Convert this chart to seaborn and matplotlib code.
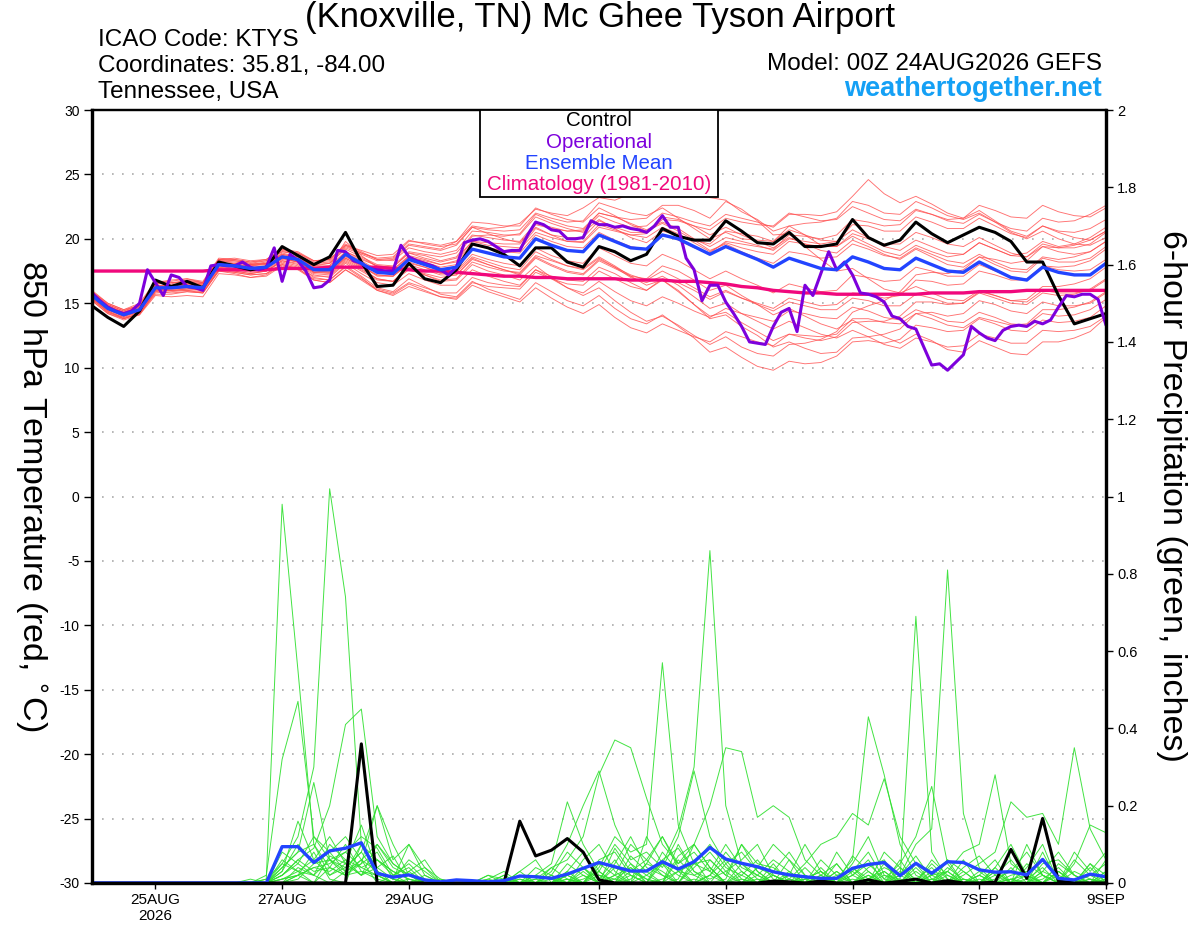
import numpy as np
import pandas as pd
import matplotlib
matplotlib.use('Agg')
import matplotlib.pyplot as plt
import seaborn as sns
from matplotlib.patches import Rectangle

sns.set_theme(style='white')
plt.rcParams['font.family'] = ['Liberation Sans', 'DejaVu Sans']
plt.rcParams['text.color'] = 'black'
plt.rcParams['axes.labelcolor'] = 'black'
plt.rcParams['xtick.color'] = 'black'
plt.rcParams['ytick.color'] = 'black'

# ---------------- data ----------------
times6 = pd.date_range('2026-08-24 00:00', periods=65, freq='6h')
times3 = pd.date_range('2026-08-24 00:00', periods=129, freq='3h')

tick_dates = pd.to_datetime(['2026-08-25', '2026-08-27', '2026-08-29', '2026-09-01',
                             '2026-09-03', '2026-09-05', '2026-09-07', '2026-09-09'])
tick_labels = ['25AUG\n2026', '27AUG', '29AUG', '1SEP', '3SEP', '5SEP', '7SEP', '9SEP']
temp_ticks = [-30, -25, -20, -15, -10, -5, 0, 5, 10, 15, 20, 25, 30]
precip_ticks = [0, 0.2, 0.4, 0.6, 0.8, 1.0, 1.2, 1.4, 1.6, 1.8, 2.0]
precip_tick_labels = ['0', '0.2', '0.4', '0.6', '0.8', '1', '1.2', '1.4', '1.6', '1.8', '2']

control_temp = [14.8, 13.9, 13.2, 14.4, 16.8, 16.3, 16.7, 16.2, 18.2, 17.9, 17.6, 17.8, 19.4,
                18.7, 18.0, 18.6, 20.5, 18.2, 16.3, 16.4, 18.1, 16.9, 16.6, 17.6, 19.6, 19.3,
                18.8, 17.9, 19.3, 19.3, 18.2, 17.8, 19.4, 19.0, 18.3, 18.8, 20.8, 20.2, 19.9,
                19.9, 21.4, 20.6, 19.7, 19.6, 20.5, 19.4, 19.4, 19.6, 21.5, 20.1, 19.5, 19.9,
                21.3, 20.4, 19.7, 20.3, 20.9, 20.5, 19.8, 18.2, 18.2, 15.6, 13.4, 13.8, 14.2]

mean_temp = [15.6, 14.6, 14.1, 14.5, 16.2, 16.2, 16.3, 16.2, 18.0, 17.9, 17.7, 17.8, 18.6,
             18.4, 17.6, 17.6, 18.8, 18.1, 17.4, 17.3, 18.4, 18.0, 17.6, 17.8, 19.2, 18.9,
             18.6, 18.5, 20.0, 19.5, 19.1, 19.0, 20.3, 19.8, 19.3, 19.2, 20.3, 20.0, 19.4,
             18.8, 19.4, 18.9, 18.4, 17.8, 18.5, 18.1, 17.7, 17.6, 18.6, 18.2, 17.7, 17.6,
             18.5, 18.0, 17.5, 17.4, 18.2, 17.6, 17.0, 16.8, 17.8, 17.4, 17.2, 17.2, 18.1]

clim_temp = [17.5, 17.5, 17.5, 17.5, 17.5, 17.5, 17.5, 17.5, 17.6, 17.6, 17.6, 17.6, 17.7,
             17.7, 17.7, 17.8, 17.8, 17.8, 17.8, 17.7, 17.6, 17.5, 17.5, 17.4, 17.3, 17.2,
             17.1, 17.1, 17.0, 17.0, 16.9, 16.9, 16.9, 16.9, 16.8, 16.8, 16.8, 16.7, 16.7,
             16.6, 16.5, 16.3, 16.2, 16.0, 15.9, 15.8, 15.8, 15.7, 15.7, 15.7, 15.7, 15.7,
             15.7, 15.8, 15.8, 15.8, 15.9, 15.9, 15.9, 16.0, 16.0, 16.0, 16.0, 16.0, 16.0]

oper_temp = [15.8, 15.2, 14.7, 14.4, 14.2, 14.4, 15.0, 17.6, 16.6, 15.6,
             17.2, 17.0, 16.3, 16.2, 16.0, 17.9, 18.0, 17.9, 17.9, 18.2,
             17.8, 17.6, 17.8, 19.3, 16.7, 18.8, 18.3, 17.5, 16.2, 16.3,
             16.8, 19.1, 19.0, 18.3, 18.1, 17.7, 17.6, 17.5, 17.5, 19.5,
             18.6, 18.3, 18.1, 17.9, 17.6, 17.2, 17.8, 19.7, 19.9, 20.0,
             19.8, 19.4, 19.0, 19.1, 19.1, 20.3, 21.3, 21.1, 20.7, 20.6,
             20.0, 20.0, 20.1, 21.4, 21.1, 21.1, 20.9, 21.0, 20.8, 20.7,
             20.5, 21.0, 21.8, 20.9, 20.9, 18.5, 17.6, 15.2, 16.4, 16.4,
             15.1, 14.2, 13.2, 12.0, 11.9, 11.8, 13.2, 14.3, 14.6, 12.8,
             16.4, 15.6, 17.3, 19.0, 17.6, 18.2, 17.2, 15.8, 15.7, 15.5,
             15.1, 14.0, 13.8, 13.2, 13.0, 11.6, 10.2, 10.3, 9.8, 10.4,
             11.0, 13.2, 12.7, 12.3, 12.1, 12.9, 13.2, 13.3, 13.2, 13.6,
             13.4, 13.7, 14.7, 15.6, 15.5, 15.7, 15.7, 15.3, 13.3]

member_temps = [
    [15.9, 14.9, 14.4, 14.9, 16.6, 16.5, 16.8, 16.6, 18.3, 18.1, 18.0, 18.2, 19.0,
     18.9, 18.2, 18.3, 19.5, 18.9, 18.4, 18.5, 19.6, 19.4, 19.2, 19.8, 21.0, 20.8,
     20.9, 21.2, 22.3, 22.0, 21.8, 22.4, 23.2, 23.0, 23.5, 23.9, 24.3, 24.6, 24.0,
     23.2, 23.0, 22.1, 21.5, 20.6, 21.0, 20.3, 19.5, 19.4, 20.2, 19.6, 19.0, 18.7,
     19.5, 19.0, 18.6, 18.8, 19.7, 19.2, 18.7, 18.9, 19.8, 19.4, 19.6, 20.1, 20.9],
    [15.3, 14.4, 13.8, 14.2, 15.8, 15.9, 16.0, 15.8, 17.6, 17.4, 17.2, 17.3, 18.0,
     17.7, 16.9, 16.8, 17.9, 17.1, 16.2, 15.9, 16.9, 16.3, 15.7, 15.5, 16.7, 16.1,
     15.7, 15.3, 16.6, 15.9, 15.2, 14.8, 15.6, 14.6, 13.8, 13.4, 14.1, 13.2, 12.3,
     11.2, 11.6, 10.8, 10.1, 9.8, 10.5, 10.3, 10.4, 10.9, 12.0, 12.1, 11.9, 12.2,
     13.3, 13.1, 12.8, 12.9, 13.8, 13.4, 12.9, 12.8, 13.7, 13.5, 13.6, 13.9, 14.8],
    [15.7, 14.8, 14.3, 14.7, 16.4, 16.4, 16.5, 16.5, 18.4, 18.5, 18.3, 18.4, 19.2,
     18.8, 18.0, 18.1, 19.2, 18.6, 18.0, 17.9, 19.0, 18.8, 18.6, 18.9, 20.3, 20.1,
     19.9, 19.8, 21.2, 20.9, 20.6, 20.6, 21.8, 21.3, 20.9, 21.0, 22.0, 21.7, 21.3,
     21.0, 21.9, 21.6, 21.3, 20.9, 21.9, 21.9, 21.8, 22.1, 23.3, 24.6, 23.5, 22.8,
     23.3, 22.7, 22.0, 21.6, 22.2, 21.4, 20.6, 20.2, 21.0, 20.5, 20.1, 19.9, 20.6],
    [15.5, 14.5, 14.0, 14.3, 16.0, 16.0, 16.1, 16.3, 18.2, 18.0, 17.9, 18.0, 18.9,
     18.6, 17.8, 17.7, 19.0, 18.4, 17.9, 17.8, 18.9, 18.7, 18.3, 18.6, 20.2, 20.3,
     20.2, 20.4, 21.9, 21.4, 21.0, 20.8, 22.0, 21.7, 21.2, 20.7, 21.3, 20.8, 20.0,
     19.4, 20.1, 19.8, 19.5, 19.1, 20.0, 19.8, 19.6, 19.8, 21.1, 21.0, 20.6, 20.6,
     21.7, 21.3, 20.8, 20.8, 21.6, 21.0, 20.4, 20.1, 21.0, 20.6, 20.5, 20.8, 21.5],
    [15.4, 14.3, 13.9, 14.1, 15.6, 15.5, 15.6, 15.5, 17.3, 17.2, 17.0, 17.1, 17.9,
     17.6, 16.8, 16.6, 17.6, 16.9, 16.1, 15.8, 16.6, 16.2, 15.8, 15.8, 17.0, 16.6,
     16.4, 16.3, 17.6, 17.1, 16.8, 16.7, 17.8, 17.3, 16.6, 16.0, 16.8, 16.0, 14.9,
     13.8, 14.1, 13.2, 12.5, 11.6, 12.0, 11.5, 11.1, 11.2, 12.3, 12.4, 12.6, 13.0,
     14.2, 14.3, 14.0, 14.2, 15.2, 14.9, 14.4, 14.2, 15.1, 14.8, 14.8, 15.0, 15.8],
    [15.8, 14.8, 14.3, 14.8, 16.5, 16.6, 16.7, 16.5, 18.1, 18.0, 17.9, 18.1, 18.8,
     18.5, 17.8, 17.9, 19.0, 18.5, 17.9, 17.8, 18.9, 18.5, 18.2, 18.5, 19.8, 19.5,
     19.4, 19.3, 20.8, 20.3, 20.1, 20.1, 21.4, 20.9, 20.5, 20.5, 21.7, 21.5, 21.0,
     20.3, 20.9, 20.3, 19.8, 19.3, 20.1, 19.6, 19.1, 18.9, 19.9, 19.4, 18.8, 18.4,
     19.2, 18.6, 18.0, 17.8, 18.6, 18.0, 17.5, 17.4, 18.5, 18.2, 18.2, 18.5, 19.4],
    [15.2, 14.2, 13.7, 14.1, 15.9, 16.0, 16.1, 16.0, 17.8, 17.6, 17.4, 17.5, 18.3,
     18.1, 17.3, 17.2, 18.3, 17.6, 16.9, 16.7, 17.7, 17.3, 17.0, 17.2, 18.4, 18.0,
     17.6, 17.2, 18.5, 17.9, 17.4, 17.2, 18.3, 17.7, 17.1, 16.9, 17.9, 17.5, 16.8,
     16.0, 16.4, 15.6, 14.9, 14.1, 14.6, 14.0, 13.4, 13.0, 13.7, 13.0, 12.4, 11.9,
     12.6, 12.1, 11.4, 11.2, 12.1, 11.6, 11.1, 11.0, 12.0, 12.0, 12.3, 12.8, 13.9],
    [15.6, 14.7, 14.2, 14.6, 16.3, 16.4, 16.6, 16.4, 18.0, 18.1, 18.0, 18.1, 18.7,
     18.5, 17.9, 18.1, 19.3, 18.8, 18.3, 18.4, 19.5, 19.3, 19.1, 19.5, 20.9, 20.7,
     20.6, 20.7, 22.0, 21.6, 21.3, 21.4, 22.8, 22.4, 22.0, 21.8, 22.4, 21.6, 20.8,
     20.0, 20.5, 20.0, 19.9, 19.8, 21.0, 21.2, 21.3, 21.6, 22.9, 22.6, 22.0, 21.9,
     22.9, 22.4, 21.8, 21.5, 22.0, 21.3, 20.5, 20.0, 20.6, 20.0, 19.6, 19.5, 20.1],
    [15.5, 14.6, 14.1, 14.4, 16.1, 16.1, 16.2, 16.0, 17.7, 17.5, 17.3, 17.5, 18.2,
     17.9, 17.0, 16.8, 17.8, 17.0, 16.0, 15.6, 16.3, 15.9, 15.5, 15.4, 16.6, 16.3,
     16.2, 16.1, 17.4, 16.9, 16.5, 16.4, 17.5, 16.9, 16.3, 16.0, 16.9, 16.6, 16.0,
     15.3, 15.9, 15.4, 15.0, 14.6, 15.4, 15.1, 14.8, 14.9, 15.8, 15.7, 15.4, 15.6,
     16.8, 16.7, 16.4, 16.5, 17.5, 17.2, 16.8, 16.8, 17.9, 17.8, 17.9, 18.3, 19.2],
    [15.9, 15.0, 14.5, 14.8, 16.4, 16.3, 16.5, 16.4, 18.3, 18.2, 18.0, 18.0, 18.7,
     18.4, 17.6, 17.5, 18.6, 18.0, 17.4, 17.4, 18.6, 18.3, 18.0, 18.3, 19.8, 19.7,
     19.6, 19.6, 21.1, 20.8, 20.6, 20.7, 22.0, 21.7, 21.5, 21.6, 22.6, 22.6, 22.2,
     21.6, 22.9, 22.3, 21.4, 20.3, 20.4, 19.4, 18.4, 17.5, 17.7, 16.9, 16.1, 15.8,
     16.3, 15.8, 15.3, 15.2, 16.0, 15.6, 15.2, 15.3, 16.3, 16.3, 16.5, 16.9, 17.8],
    [15.7, 14.7, 14.2, 14.6, 16.3, 16.2, 16.3, 16.3, 18.1, 18.0, 17.8, 17.9, 18.7,
     18.3, 17.4, 17.3, 18.4, 17.7, 16.9, 16.7, 17.8, 17.2, 16.7, 16.8, 18.0, 17.5,
     17.2, 16.8, 17.9, 17.0, 16.2, 15.6, 16.2, 15.2, 14.3, 13.6, 14.0, 13.3, 12.5,
     11.8, 12.4, 11.6, 11.1, 10.9, 11.8, 11.9, 12.2, 12.8, 14.3, 14.8, 15.2, 15.9,
     17.2, 17.4, 17.3, 17.6, 18.6, 18.4, 18.1, 18.3, 19.4, 19.3, 19.5, 19.9, 20.6],
    [15.4, 14.4, 13.9, 14.3, 16.0, 16.1, 16.2, 16.0, 17.9, 17.7, 17.5, 17.6, 18.4,
     18.2, 17.4, 17.4, 18.5, 17.9, 17.2, 17.1, 18.1, 17.8, 17.4, 17.5, 18.8, 18.4,
     18.1, 17.9, 19.3, 18.7, 18.3, 18.1, 19.3, 18.7, 18.1, 17.9, 18.8, 18.3, 17.6,
     16.9, 17.5, 16.9, 16.4, 15.8, 16.5, 16.2, 15.9, 16.0, 17.2, 17.0, 16.7, 16.8,
     17.8, 17.5, 17.1, 17.1, 18.0, 17.5, 17.0, 16.9, 17.9, 17.6, 17.5, 17.6, 18.4],
    [15.8, 14.8, 14.2, 14.5, 16.1, 16.3, 16.4, 16.3, 18.0, 17.9, 17.6, 17.7, 18.5,
     18.3, 17.6, 17.7, 18.9, 18.3, 17.6, 17.6, 18.7, 18.4, 18.0, 18.2, 19.6, 19.3,
     19.0, 18.9, 20.3, 19.8, 19.4, 19.3, 20.5, 19.9, 19.4, 19.2, 20.3, 19.9, 19.3,
     18.9, 19.8, 19.6, 19.4, 19.2, 20.3, 20.2, 20.0, 20.3, 21.5, 21.3, 21.0, 21.1,
     22.2, 21.9, 21.5, 21.6, 22.6, 22.2, 21.7, 21.6, 22.6, 22.1, 21.8, 21.7, 22.4],
    [15.6, 14.6, 14.0, 14.4, 16.2, 16.2, 16.4, 16.2, 18.0, 17.8, 17.6, 17.8, 18.5,
     18.2, 17.4, 17.5, 18.7, 17.9, 17.1, 17.1, 18.2, 17.8, 17.3, 17.4, 18.6, 18.2,
     17.8, 17.6, 19.0, 18.4, 17.9, 17.6, 18.5, 17.8, 17.0, 16.6, 17.1, 16.4, 15.5,
     14.6, 15.0, 14.2, 13.6, 13.0, 13.6, 13.1, 12.6, 12.3, 12.9, 12.4, 11.8, 11.5,
     12.3, 12.0, 11.6, 11.7, 12.6, 12.3, 11.9, 11.9, 12.9, 12.8, 12.9, 13.2, 14.0],
    [16.0, 15.0, 14.5, 15.0, 16.7, 16.7, 16.9, 16.7, 18.5, 18.4, 18.2, 18.4, 19.2,
     19.0, 18.3, 18.4, 19.6, 19.0, 18.4, 18.3, 19.3, 19.0, 18.8, 19.1, 20.6, 20.5,
     20.3, 20.3, 21.7, 21.2, 20.8, 20.5, 21.5, 20.8, 20.1, 19.7, 20.6, 20.3, 19.9,
     19.6, 20.6, 20.4, 20.2, 19.8, 20.7, 20.3, 19.9, 19.8, 20.7, 20.1, 19.4, 19.1,
     19.9, 19.4, 18.9, 18.8, 19.7, 19.2, 18.7, 18.6, 19.6, 19.3, 19.3, 19.6, 20.5],
    [15.3, 14.3, 13.8, 14.2, 15.9, 15.8, 15.9, 15.8, 17.5, 17.4, 17.2, 17.3, 18.1,
     17.8, 17.1, 17.1, 18.2, 17.5, 16.8, 16.7, 17.6, 17.2, 16.8, 16.9, 18.2, 17.8,
     17.5, 17.4, 18.7, 18.3, 17.9, 17.7, 18.6, 17.9, 17.1, 16.4, 16.8, 15.9, 14.9,
     14.0, 14.3, 13.5, 12.8, 12.1, 12.6, 12.3, 12.1, 12.4, 13.5, 13.6, 13.6, 14.0,
     15.1, 15.1, 14.9, 15.0, 15.9, 15.6, 15.2, 15.1, 16.0, 15.8, 15.8, 16.0, 16.8],
    [15.7, 14.6, 14.2, 14.7, 16.6, 16.8, 16.9, 16.6, 18.4, 18.3, 18.1, 18.3, 19.1,
     18.9, 18.3, 18.4, 19.5, 19.1, 18.7, 18.8, 19.9, 19.6, 19.4, 19.6, 20.9, 20.4,
     20.0, 19.7, 20.9, 20.3, 19.8, 19.7, 20.9, 20.6, 20.3, 20.4, 21.5, 21.4, 21.0,
     20.7, 21.6, 21.3, 21.1, 21.0, 22.0, 21.7, 21.4, 21.5, 22.5, 22.0, 21.5, 21.4,
     22.3, 21.9, 21.4, 21.2, 21.9, 21.3, 20.8, 20.6, 21.6, 21.3, 21.4, 21.9, 22.6],
    [15.5, 14.5, 14.0, 14.5, 16.3, 16.3, 16.4, 16.1, 17.8, 17.7, 17.5, 17.7, 18.5,
     18.2, 17.5, 17.4, 18.5, 17.8, 17.2, 17.1, 18.0, 17.6, 17.2, 17.2, 18.5, 18.0,
     17.6, 17.3, 18.6, 18.0, 17.5, 17.3, 18.4, 17.8, 17.2, 16.8, 17.5, 16.9, 16.2,
     15.5, 16.0, 15.4, 14.9, 14.4, 15.1, 14.8, 14.5, 14.5, 15.4, 15.2, 14.8, 14.8,
     15.7, 15.4, 15.0, 15.0, 15.8, 15.4, 15.0, 14.9, 15.8, 15.6, 15.7, 16.1, 16.9],
    [15.6, 14.7, 14.2, 14.4, 16.0, 16.2, 16.5, 16.5, 18.3, 18.3, 18.1, 18.1, 18.8,
     18.6, 17.9, 17.9, 19.8, 18.7, 17.8, 17.6, 18.6, 18.2, 17.8, 18.0, 19.5, 19.3,
     19.1, 19.2, 20.5, 20.1, 19.8, 19.8, 21.1, 20.7, 20.3, 20.1, 20.9, 20.4, 19.7,
     19.0, 19.7, 19.3, 19.0, 18.8, 19.8, 19.6, 19.4, 19.4, 20.4, 20.0, 19.6, 19.6,
     20.5, 20.1, 19.6, 19.4, 20.1, 19.5, 18.9, 18.6, 19.4, 19.0, 18.8, 19.0, 19.8],
    [15.4, 14.5, 14.0, 14.4, 16.1, 16.0, 16.0, 15.9, 17.6, 17.5, 17.3, 17.5, 18.3,
     18.0, 17.2, 17.0, 18.1, 17.3, 16.6, 16.4, 17.3, 16.8, 16.4, 16.4, 17.6, 17.1,
     16.7, 16.4, 17.6, 16.9, 16.2, 15.8, 16.7, 15.9, 15.2, 14.8, 15.5, 15.0, 14.4,
     13.9, 14.6, 14.2, 13.9, 13.6, 14.4, 14.2, 13.9, 13.8, 14.7, 14.4, 13.9, 13.7,
     14.5, 14.1, 13.6, 13.5, 14.3, 13.9, 13.4, 13.3, 14.2, 14.0, 14.1, 14.5, 15.3],
    [15.8, 14.9, 14.4, 14.8, 16.5, 16.6, 16.7, 16.6, 18.4, 18.4, 18.2, 18.3, 19.0,
     18.8, 18.1, 18.2, 19.4, 18.9, 18.5, 18.6, 19.8, 19.7, 19.5, 19.8, 21.3, 21.2,
     21.0, 21.0, 22.4, 21.9, 21.5, 21.3, 22.4, 21.8, 21.1, 20.6, 21.2, 20.6, 19.9,
     19.1, 19.6, 19.0, 18.5, 18.1, 19.0, 18.8, 18.5, 18.6, 19.6, 19.2, 18.7, 18.5,
     19.3, 18.8, 18.3, 18.1, 18.8, 18.2, 17.7, 17.6, 18.6, 18.4, 18.6, 19.0, 19.8],
    [15.2, 14.2, 13.8, 14.2, 15.7, 15.7, 15.9, 15.8, 17.5, 17.3, 17.0, 17.2, 18.0,
     17.7, 16.8, 16.6, 17.6, 16.8, 16.0, 15.7, 16.5, 16.0, 15.5, 15.3, 16.4, 15.9,
     15.5, 15.1, 16.2, 15.4, 14.7, 14.2, 14.9, 13.9, 13.1, 12.7, 13.4, 12.9, 12.4,
     12.0, 12.8, 12.4, 12.0, 11.7, 12.6, 12.5, 12.4, 12.6, 13.8, 13.8, 13.5, 13.4,
     14.2, 13.8, 13.3, 13.1, 13.9, 13.6, 13.3, 13.4, 14.5, 14.5, 14.7, 15.1, 15.9],
]

control_precip = [0, 0, 0, 0, 0, 0, 0, 0, 0, 0, 0, 0, 0,
                  0, 0, 0, 0, 0.36, 0, 0, 0, 0, 0, 0, 0, 0,
                  0, 0.16, 0.07, 0.085, 0.115, 0.08, 0.008, 0, 0, 0, 0, 0, 0,
                  0, 0, 0, 0, 0.005, 0.003, 0, 0.005, 0, 0, 0.008, 0, 0.004,
                  0.01, 0, 0.006, 0, 0, 0.002, 0.087, 0.012, 0.167, 0.005, 0, 0, 0]

mean_precip = [0, 0, 0, 0, 0, 0, 0, 0, 0, 0, 0, 0, 0.094,
               0.094, 0.053, 0.083, 0.09, 0.104, 0.025, 0.015, 0.021, 0.008, 0.003, 0.008, 0.006, 0.003,
               0.006, 0.018, 0.016, 0.012, 0.023, 0.038, 0.053, 0.042, 0.031, 0.031, 0.055, 0.036, 0.055,
               0.092, 0.062, 0.051, 0.042, 0.029, 0.021, 0.016, 0.012, 0.012, 0.038, 0.048, 0.053, 0.019,
               0.051, 0.025, 0.055, 0.053, 0.034, 0.028, 0.029, 0.021, 0.061, 0.012, 0.008, 0.023, 0.016]

member_precips = [
    [0, 0, 0, 0, 0, 0, 0, 0, 0, 0, 0, 0.01, 0.98,
     0.55, 0.10, 0.02, 0.05, 0.15, 0.03, 0.00, 0.01, 0.00, 0.00, 0.00, 0.00, 0.01,
     0.00, 0.02, 0.00, 0.00, 0.03, 0.08, 0.02, 0.01, 0.00, 0.05, 0.12, 0.04, 0.00,
     0.02, 0.06, 0.01, 0.00, 0.00, 0.00, 0.01, 0.03, 0.00, 0.02, 0.05, 0.01, 0.00,
     0.00, 0.01, 0.03, 0.00, 0.00, 0.02, 0.06, 0.01, 0.00, 0.03, 0.00, 0.00, 0.01],
    [0, 0, 0, 0, 0, 0, 0, 0, 0, 0, 0, 0.00, 0.05,
     0.12, 0.30, 1.02, 0.74, 0.10, 0.03, 0.01, 0.00, 0.00, 0.01, 0.00, 0.00, 0.02,
     0.01, 0.00, 0.00, 0.04, 0.01, 0.00, 0.00, 0.09, 0.03, 0.01, 0.00, 0.06, 0.02,
     0.00, 0.01, 0.10, 0.03, 0.00, 0.00, 0.02, 0.00, 0.01, 0.04, 0.00, 0.00, 0.02,
     0.07, 0.01, 0.00, 0.00, 0.03, 0.00, 0.01, 0.02, 0.00, 0.00, 0.06, 0.02, 0.00],
    [0, 0, 0, 0, 0, 0, 0, 0, 0, 0, 0, 0.02, 0.32,
     0.47, 0.12, 0.06, 0.08, 0.04, 0.06, 0.02, 0.00, 0.00, 0.00, 0.00, 0.00, 0.00,
     0.00, 0.00, 0.01, 0.00, 0.05, 0.02, 0.00, 0.00, 0.07, 0.03, 0.00, 0.01, 0.10,
     0.04, 0.00, 0.00, 0.02, 0.00, 0.01, 0.00, 0.00, 0.05, 0.00, 0.00, 0.03, 0.00,
     0.00, 0.00, 0.04, 0.01, 0.00, 0.00, 0.00, 0.10, 0.02, 0.00, 0.00, 0.04, 0.00],
    [0, 0, 0, 0, 0, 0, 0, 0, 0, 0, 0, 0.00, 0.02,
     0.06, 0.09, 0.20, 0.41, 0.45, 0.12, 0.05, 0.02, 0.00, 0.00, 0.00, 0.00, 0.00,
     0.02, 0.00, 0.00, 0.00, 0.02, 0.00, 0.03, 0.10, 0.05, 0.00, 0.00, 0.00, 0.06,
     0.00, 0.00, 0.00, 0.04, 0.02, 0.00, 0.00, 0.00, 0.00, 0.07, 0.03, 0.00, 0.00,
     0.05, 0.00, 0.00, 0.06, 0.00, 0.00, 0.01, 0.00, 0.08, 0.00, 0.00, 0.00, 0.03],
    [0, 0, 0, 0, 0, 0, 0, 0, 0, 0, 0, 0.00, 0.03,
     0.10, 0.05, 0.08, 0.12, 0.06, 0.03, 0.01, 0.10, 0.02, 0.00, 0.00, 0.00, 0.02,
     0.00, 0.03, 0.06, 0.00, 0.01, 0.00, 0.04, 0.12, 0.08, 0.10, 0.57, 0.15, 0.05,
     0.10, 0.04, 0.02, 0.00, 0.00, 0.06, 0.02, 0.00, 0.03, 0.00, 0.00, 0.02, 0.00,
     0.00, 0.05, 0.01, 0.00, 0.00, 0.03, 0.00, 0.00, 0.02, 0.00, 0.01, 0.00, 0.00],
    [0, 0, 0, 0, 0, 0, 0, 0, 0, 0, 0, 0.00, 0.01,
     0.03, 0.06, 0.02, 0.04, 0.08, 0.02, 0.00, 0.00, 0.01, 0.00, 0.00, 0.00, 0.00,
     0.00, 0.00, 0.00, 0.02, 0.00, 0.04, 0.01, 0.06, 0.00, 0.02, 0.05, 0.14, 0.30,
     0.86, 0.20, 0.05, 0.01, 0.00, 0.02, 0.00, 0.04, 0.00, 0.00, 0.01, 0.03, 0.00,
     0.00, 0.02, 0.00, 0.01, 0.00, 0.00, 0.04, 0.00, 0.00, 0.02, 0.00, 0.01, 0.00],
    [0, 0, 0, 0, 0, 0, 0, 0, 0, 0, 0, 0.00, 0.00,
     0.02, 0.04, 0.03, 0.06, 0.02, 0.06, 0.03, 0.01, 0.00, 0.00, 0.00, 0.00, 0.00,
     0.00, 0.01, 0.00, 0.00, 0.00, 0.02, 0.00, 0.01, 0.04, 0.01, 0.00, 0.03, 0.02,
     0.04, 0.00, 0.01, 0.00, 0.02, 0.00, 0.01, 0.03, 0.00, 0.05, 0.12, 0.02, 0.01,
     0.69, 0.08, 0.01, 0.00, 0.00, 0.03, 0.00, 0.01, 0.04, 0.00, 0.00, 0.00, 0.01],
    [0, 0, 0, 0, 0, 0, 0, 0, 0, 0, 0, 0.00, 0.01,
     0.02, 0.00, 0.04, 0.10, 0.03, 0.01, 0.00, 0.00, 0.00, 0.00, 0.00, 0.00, 0.00,
     0.00, 0.00, 0.02, 0.01, 0.00, 0.00, 0.02, 0.00, 0.01, 0.05, 0.03, 0.00, 0.00,
     0.02, 0.08, 0.03, 0.00, 0.00, 0.01, 0.00, 0.00, 0.03, 0.00, 0.01, 0.04, 0.02,
     0.10, 0.14, 0.81, 0.18, 0.04, 0.00, 0.01, 0.00, 0.00, 0.03, 0.00, 0.00, 0.00],
    [0, 0, 0, 0, 0, 0, 0, 0, 0, 0, 0, 0.00, 0.04,
     0.08, 0.10, 0.04, 0.02, 0.06, 0.00, 0.02, 0.04, 0.00, 0.00, 0.00, 0.00, 0.00,
     0.01, 0.00, 0.00, 0.00, 0.00, 0.01, 0.03, 0.00, 0.02, 0.00, 0.06, 0.09, 0.03,
     0.01, 0.03, 0.00, 0.00, 0.05, 0.00, 0.02, 0.00, 0.01, 0.06, 0.43, 0.28, 0.10,
     0.02, 0.00, 0.00, 0.01, 0.00, 0.04, 0.00, 0.02, 0.00, 0.05, 0.02, 0.00, 0.03],
    [0, 0, 0, 0, 0, 0, 0, 0, 0, 0, 0, 0.00, 0.00,
     0.04, 0.02, 0.06, 0.03, 0.10, 0.04, 0.01, 0.00, 0.00, 0.00, 0.00, 0.00, 0.00,
     0.00, 0.00, 0.00, 0.01, 0.00, 0.00, 0.00, 0.02, 0.04, 0.00, 0.01, 0.03, 0.00,
     0.02, 0.00, 0.00, 0.01, 0.00, 0.00, 0.00, 0.01, 0.00, 0.02, 0.00, 0.05, 0.00,
     0.01, 0.04, 0.00, 0.02, 0.05, 0.08, 0.21, 0.17, 0.18, 0.10, 0.35, 0.14, 0.06],
    [0, 0, 0, 0, 0, 0, 0, 0, 0, 0, 0, 0.00, 0.02,
     0.05, 0.02, 0.00, 0.03, 0.05, 0.08, 0.01, 0.06, 0.03, 0.00, 0.00, 0.00, 0.00,
     0.00, 0.00, 0.01, 0.04, 0.06, 0.12, 0.28, 0.37, 0.35, 0.22, 0.10, 0.05, 0.08,
     0.03, 0.00, 0.02, 0.06, 0.01, 0.00, 0.00, 0.02, 0.00, 0.00, 0.03, 0.00, 0.01,
     0.00, 0.00, 0.02, 0.00, 0.01, 0.00, 0.00, 0.00, 0.03, 0.01, 0.00, 0.05, 0.02],
    [0, 0, 0, 0, 0, 0, 0, 0, 0, 0, 0, 0.00, 0.06,
     0.03, 0.00, 0.07, 0.05, 0.02, 0.10, 0.04, 0.02, 0.00, 0.00, 0.00, 0.00, 0.00,
     0.00, 0.00, 0.00, 0.00, 0.02, 0.00, 0.05, 0.02, 0.10, 0.06, 0.12, 0.05, 0.10,
     0.20, 0.35, 0.34, 0.17, 0.20, 0.17, 0.06, 0.02, 0.00, 0.04, 0.01, 0.00, 0.02,
     0.00, 0.01, 0.00, 0.03, 0.00, 0.00, 0.00, 0.05, 0.02, 0.00, 0.00, 0.01, 0.00],
    [0, 0, 0, 0, 0, 0, 0, 0, 0, 0, 0, 0.00, 0.02,
     0.06, 0.03, 0.04, 0.02, 0.05, 0.20, 0.06, 0.10, 0.04, 0.01, 0.00, 0.00, 0.00,
     0.00, 0.00, 0.00, 0.03, 0.10, 0.20, 0.29, 0.15, 0.06, 0.08, 0.04, 0.12, 0.29,
     0.12, 0.05, 0.08, 0.03, 0.00, 0.02, 0.10, 0.03, 0.00, 0.01, 0.00, 0.00, 0.04,
     0.01, 0.00, 0.06, 0.00, 0.02, 0.00, 0.00, 0.00, 0.01, 0.04, 0.00, 0.00, 0.02],
    [0, 0, 0, 0, 0, 0, 0, 0, 0, 0, 0, 0.00, 0.00,
     0.01, 0.05, 0.06, 0.02, 0.03, 0.02, 0.00, 0.03, 0.00, 0.00, 0.00, 0.00, 0.00,
     0.00, 0.00, 0.00, 0.00, 0.01, 0.00, 0.00, 0.04, 0.02, 0.00, 0.08, 0.03, 0.05,
     0.06, 0.02, 0.10, 0.05, 0.04, 0.01, 0.05, 0.10, 0.12, 0.18, 0.15, 0.27, 0.12,
     0.05, 0.02, 0.03, 0.08, 0.10, 0.28, 0.05, 0.02, 0.00, 0.00, 0.03, 0.01, 0.00],
    [0, 0, 0, 0, 0, 0, 0, 0, 0, 0, 0, 0.00, 0.01,
     0.02, 0.08, 0.01, 0.00, 0.10, 0.06, 0.03, 0.01, 0.00, 0.00, 0.00, 0.00, 0.00,
     0.00, 0.00, 0.02, 0.05, 0.21, 0.10, 0.03, 0.00, 0.05, 0.02, 0.00, 0.10, 0.03,
     0.00, 0.00, 0.03, 0.00, 0.02, 0.00, 0.01, 0.00, 0.02, 0.03, 0.08, 0.01, 0.05,
     0.12, 0.25, 0.05, 0.00, 0.02, 0.00, 0.00, 0.04, 0.10, 0.00, 0.05, 0.15, 0.13],
    [0, 0, 0, 0, 0, 0, 0, 0, 0, 0, 0.01, 0.00, 0.04,
     0.08, 0.26, 0.06, 0.04, 0.08, 0.20, 0.10, 0.02, 0.00, 0.00, 0.00, 0.00, 0.01,
     0.03, 0.00, 0.00, 0.00, 0.02, 0.04, 0.00, 0.00, 0.03, 0.06, 0.02, 0.00, 0.01,
     0.00, 0.05, 0.00, 0.00, 0.03, 0.08, 0.02, 0.00, 0.00, 0.00, 0.02, 0.00, 0.06,
     0.00, 0.03, 0.00, 0.00, 0.00, 0.00, 0.02, 0.03, 0.00, 0.00, 0.08, 0.03, 0.08],
    [0, 0, 0, 0, 0, 0, 0, 0, 0, 0, 0, 0.00, 0.08,
     0.05, 0.12, 0.08, 0.03, 0.06, 0.10, 0.05, 0.02, 0.04, 0.00, 0.00, 0.00, 0.00,
     0.00, 0.03, 0.00, 0.00, 0.00, 0.06, 0.10, 0.03, 0.00, 0.00, 0.05, 0.02, 0.00,
     0.06, 0.02, 0.00, 0.04, 0.10, 0.06, 0.00, 0.02, 0.05, 0.00, 0.02, 0.00, 0.03,
     0.00, 0.06, 0.02, 0.00, 0.00, 0.01, 0.03, 0.08, 0.02, 0.00, 0.00, 0.02, 0.05],
    [0, 0, 0, 0, 0, 0, 0, 0, 0, 0, 0, 0.00, 0.03,
     0.16, 0.06, 0.12, 0.05, 0.02, 0.04, 0.07, 0.00, 0.02, 0.00, 0.00, 0.00, 0.00,
     0.00, 0.00, 0.04, 0.02, 0.00, 0.03, 0.00, 0.05, 0.12, 0.04, 0.02, 0.00, 0.05,
     0.03, 0.10, 0.04, 0.02, 0.00, 0.03, 0.00, 0.06, 0.02, 0.00, 0.04, 0.06, 0.00,
     0.03, 0.00, 0.00, 0.04, 0.07, 0.02, 0.00, 0.00, 0.05, 0.06, 0.02, 0.00, 0.00],
    [0, 0, 0, 0, 0, 0, 0, 0, 0, 0, 0, 0.00, 0.00,
     0.02, 0.04, 0.05, 0.08, 0.12, 0.09, 0.02, 0.05, 0.01, 0.00, 0.00, 0.00, 0.00,
     0.00, 0.01, 0.00, 0.02, 0.08, 0.04, 0.00, 0.02, 0.00, 0.12, 0.05, 0.00, 0.04,
     0.08, 0.03, 0.06, 0.10, 0.02, 0.00, 0.04, 0.00, 0.00, 0.03, 0.00, 0.08, 0.04,
     0.00, 0.02, 0.06, 0.03, 0.00, 0.04, 0.10, 0.02, 0.00, 0.03, 0.00, 0.05, 0.00],
    [0, 0, 0, 0, 0, 0, 0, 0, 0, 0, 0, 0.01, 0.05,
     0.03, 0.02, 0.10, 0.06, 0.04, 0.02, 0.00, 0.03, 0.06, 0.00, 0.00, 0.00, 0.00,
     0.02, 0.00, 0.00, 0.00, 0.03, 0.00, 0.06, 0.08, 0.02, 0.00, 0.00, 0.07, 0.10,
     0.04, 0.00, 0.05, 0.02, 0.06, 0.03, 0.00, 0.00, 0.08, 0.02, 0.06, 0.00, 0.00,
     0.04, 0.00, 0.03, 0.00, 0.02, 0.06, 0.00, 0.00, 0.03, 0.08, 0.02, 0.00, 0.06],
]

for s in [control_temp, mean_temp, clim_temp, control_precip, mean_precip] + member_temps + member_precips:
    assert len(s) == 65, len(s)
assert len(oper_temp) == 129

# ---------------- tidy frames ----------------
temp_members_df = pd.DataFrame({
    'time': np.tile(times6, len(member_temps)),
    'temp': np.concatenate(member_temps),
    'member': np.repeat(np.arange(len(member_temps)), 65),
})
precip_members_df = pd.DataFrame({
    'time': np.tile(times6, len(member_precips)),
    'precip': np.concatenate(member_precips),
    'member': np.repeat(np.arange(len(member_precips)), 65),
})

C_RED = '#ff4d4d'
C_GREEN = '#2ee02e'
C_BLACK = '#000000'
C_PURPLE = '#7d00dc'
C_BLUE = '#2244ff'
C_PINK = '#f0087c'

fig = plt.figure(figsize=(12, 9.27), dpi=100)
ax = fig.add_axes([92 / 1200, 1 - 883 / 927, 1014 / 1200, 773 / 927])
ax2 = ax.twinx()

# temperature
sns.lineplot(data=temp_members_df, x='time', y='temp', units='member', estimator=None,
             color=C_RED, linewidth=0.65, alpha=0.8, ax=ax, legend=False)
sns.lineplot(x=times6, y=clim_temp, color=C_PINK, linewidth=2.4, ax=ax)
sns.lineplot(x=times6, y=control_temp, color=C_BLACK, linewidth=2.2, ax=ax)
sns.lineplot(x=times3, y=oper_temp, color=C_PURPLE, linewidth=2.2, ax=ax)
sns.lineplot(x=times6, y=mean_temp, color=C_BLUE, linewidth=2.4, ax=ax)

# precipitation
sns.lineplot(data=precip_members_df, x='time', y='precip', units='member', estimator=None,
             color=C_GREEN, linewidth=0.7, alpha=0.9, ax=ax2, legend=False)
sns.lineplot(x=times6, y=control_precip, color=C_BLACK, linewidth=2.2, ax=ax2)
sns.lineplot(x=times6, y=mean_precip, color=C_BLUE, linewidth=2.4, ax=ax2)

ax.set_xlim(times6[0], times6[-1])
ax.set_ylim(-30, 30)
ax2.set_ylim(0, 2)

ax.set_yticks(temp_ticks)
ax.set_yticklabels([str(t) for t in temp_ticks])
ax2.set_yticks(precip_ticks)
ax2.set_yticklabels(precip_tick_labels)
ax.set_xticks(tick_dates)
ax.set_xticklabels(tick_labels)

ax.set_xlabel('')
ax.set_ylabel('')
ax2.set_xlabel('')
ax2.set_ylabel('')

ax.grid(False)
ax2.grid(False)
ax.yaxis.grid(True, color='#aaaaaa', linestyle=(0, (1, 5)), linewidth=1.2)
ax.set_axisbelow(True)

for a in (ax, ax2):
    for side in ('left', 'right', 'bottom'):
        a.spines[side].set_linewidth(2.3)
        a.spines[side].set_color('black')
    a.spines['top'].set_linewidth(1.6)
    a.spines['top'].set_color('black')

ax.tick_params(axis='y', direction='out', length=6, width=1, labelsize=10, pad=3, colors='black', left=True)
ax2.tick_params(axis='y', direction='out', length=5, width=1, labelsize=10.5, pad=3, colors='black', right=True)
ax.tick_params(axis='x', direction='out', length=4, width=1, labelsize=11, pad=3, colors='black', bottom=True)

# legend box
ax2.add_patch(Rectangle((0.3826, 0.8875), 0.2348, 0.1125, transform=ax2.transAxes,
                        facecolor='white', edgecolor='black', linewidth=1.3, zorder=20))
leg_items = [('Control', C_BLACK, 0.9858), ('Operational', C_PURPLE, 0.9586),
             ('Ensemble Mean', C_BLUE, 0.9314), ('Climatology (1981-2010)', C_PINK, 0.9030)]
for label, col, yy in leg_items:
    ax2.text(0.5, yy, label, color=col, fontsize=14.8, ha='center', va='center',
             transform=ax2.transAxes, zorder=21)

# axis titles
fig.text(30 / 1200, 1 - 496 / 927, '850 hPa Temperature (red, $^{\\circ}$C)', rotation=270,
         ha='center', va='center', fontsize=24.5)
fig.text(1172 / 1200, 1 - 496 / 927, '6-hour Precipitation (green, inches)', rotation=270,
         ha='center', va='center', fontsize=24.5)

# header texts
fig.text(600 / 1200, 1 - 18 / 927, '(Knoxville, TN) Mc Ghee Tyson Airport', ha='center',
         va='center', fontsize=25)
fig.text(98 / 1200, 1 - 40 / 927, 'ICAO Code: KTYS', ha='left', va='center', fontsize=17.5)
fig.text(98 / 1200, 1 - 66 / 927, 'Coordinates: 35.81, -84.00', ha='left', va='center', fontsize=17.5)
fig.text(98 / 1200, 1 - 92 / 927, 'Tennessee, USA', ha='left', va='center', fontsize=17.5)
fig.text(1102 / 1200, 1 - 64 / 927, 'Model: 00Z 24AUG2026 GEFS', ha='right', va='center', fontsize=17.5)
fig.text(1102 / 1200, 1 - 89 / 927, 'weathertogether.net', ha='right', va='center', fontsize=19.5,
         fontweight='bold', color='#14a0f5')

fig.savefig('out.png', dpi=100, facecolor='white')
